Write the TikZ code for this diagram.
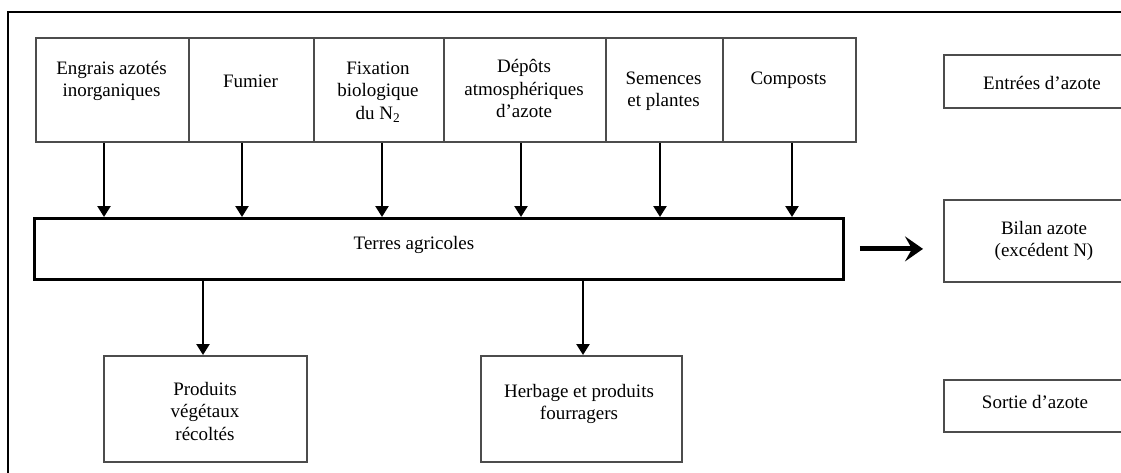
\documentclass[tikz,border=0pt]{standalone}
\usepackage{fontspec}
\setmainfont{Liberation Serif}
\usetikzlibrary{arrows.meta}
\definecolor{boxgray}{gray}{0.3}
\begin{document}
\begin{tikzpicture}[x=1pt,y=-1pt,
  box/.style={draw=boxgray, line width=1.9pt, inner sep=0pt, anchor=north west, fill=none},
  txt/.style={font=\fontsize{19}{22.5}\selectfont, align=center, inner sep=0pt},
  arr/.style={-{Triangle[width=13pt,length=11pt]}, line width=2.4pt, draw=black},
  bigarr/.style={-{Stealth[width=25pt,length=18pt,inset=7pt]}, line width=5pt, draw=black}]
\useasboundingbox (0,0) rectangle (1121,473);
\clip (0,0) rectangle (1121,473);
% frame
\draw[line width=2.4pt] (8,490) -- (8,12) -- (1140,12);
% top input boxes
\node[box, minimum width=153pt, minimum height=104pt] (b1) at (35,37) {};
\node[box, minimum width=125pt, minimum height=104pt] (b2) at (188,37) {};
\node[box, minimum width=130pt, minimum height=104pt] (b3) at (313,37) {};
\node[box, minimum width=162pt, minimum height=104pt] (b4) at (443,37) {};
\node[box, minimum width=117pt, minimum height=104pt] (b5) at (605,37) {};
\node[box, minimum width=133pt, minimum height=104pt] (b6) at (722,37) {};
\node[txt] (t1) at (111.5,81) {Engrais azotés\\inorganiques};
\node[txt] (t2) at (250.5,81) {Fumier};
\node[txt] (t3) at (378,92) {Fixation\\biologique\\du N\textsubscript{2}};
\node[txt] (t4) at (524,88.5) {Dépôts\\atmosphériques\\d’azote};
\node[txt] (t5) at (663.5,91) {Semences\\et plantes};
\node[txt] (t6) at (788.5,80) {Composts};
% central box
\node[box, draw=black, line width=2.8pt, minimum width=809pt, minimum height=61pt] (terres) at (33,217) {};
\node[txt] (tt) at (414,245) {Terres agricoles};
% output boxes
\node[box, minimum width=203pt, minimum height=106pt] (prod) at (103,355) {};
\node[box, minimum width=201pt, minimum height=106pt] (herb) at (480,355) {};
\node[txt] (tp) at (205,411) {Produits\\végétaux\\récoltés};
\node[txt] (th) at (579,404) {Herbage et produits\\fourragers};
% legend boxes (cut by the right edge)
\node[box, minimum width=200pt, minimum height=53pt] (entrees) at (943,54) {};
\node[box, minimum width=200pt, minimum height=82pt] (bilan) at (943,199) {};
\node[box, minimum width=200pt, minimum height=52pt] (sortie) at (943,379) {};
\node[txt] (te) at (1042,83) {Entrées d’azote};
\node[txt] (tb) at (1044,241) {Bilan azote\\(excédent N)};
\node[txt] (ts) at (1035,402) {Sortie d’azote};
% arrows into Terres agricoles
\draw[arr] (b1.south -| 104,0) -- (terres.north -| 104,0);
\draw[arr] (b2.south -| 242,0) -- (terres.north -| 242,0);
\draw[arr] (b3.south -| 382,0) -- (terres.north -| 382,0);
\draw[arr] (b4.south -| 521,0) -- (terres.north -| 521,0);
\draw[arr] (b5.south -| 660,0) -- (terres.north -| 660,0);
\draw[arr] (b6.south -| 792,0) -- (terres.north -| 792,0);
% arrows out
\draw[arr] (terres.south -| 203,0) -- (prod.north -| 203,0);
\draw[arr] (terres.south -| 583,0) -- (herb.north -| 583,0);
\draw[bigarr, shorten <=15pt, shorten >=20pt] (terres.east) -- (bilan.west |- terres.east);
\end{tikzpicture}
\end{document}
